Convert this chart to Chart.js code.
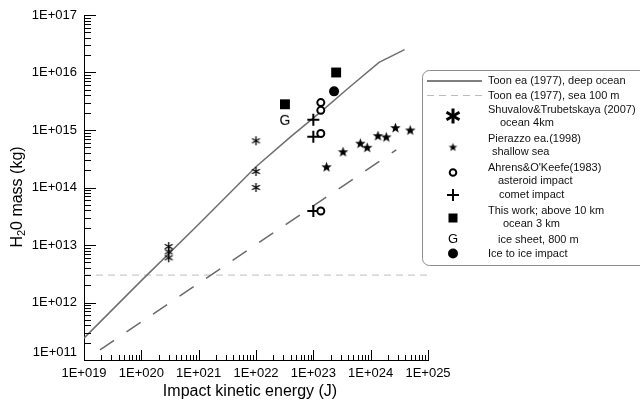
<!DOCTYPE html>
<html>
<head>
<meta charset="utf-8">
<script src="https://cdn.jsdelivr.net/npm/chart.js@4.4.1/dist/chart.umd.min.js"></script>
<style>
  html, body { margin: 0; padding: 0; background: #fff; }
</style>
</head>
<body>
<canvas id="chart" width="640" height="400"></canvas>
<script>
const FONT = "'Liberation Sans', Arial, Helvetica, sans-serif";

// axis decades
const xTicks = [1e19, 1e20, 1e21, 1e22, 1e23, 1e24, 1e25];
const yTicks = [1e11, 1e12, 1e13, 1e14, 1e15, 1e16, 1e17];

// Toon et al. curves
const toonDeepE = [1e19, 1e20, 1e21, 1e22, 4e22, 1.3e23, 4.3e23, 1.4e24, 3.9e24];
const toonDeepM = [2.4e11, 2.4e12, 2.3e13, 2.3e14, 7.6e14, 2e15, 5.6e15, 1.5e16, 2.5e16];
const toonSeaE = [1e19, 1e25];
const toonSeaM = [3e12, 3e12];
const trendE = [1.9e19, 2.8e24];
const trendM = [1.5e11, 4.5e14];

// published estimates
const shuvalovE = [3e20, 3e20, 3e20, 1e22, 1e22, 1e22];
const shuvalovM = [9.4e12, 7.6e12, 6e12, 6.5e14, 1.9e14, 1e14];
const pierazzoE = [1.7e23, 3.3e23, 6.6e23, 8.7e23, 1.34e24, 1.87e24, 2.7e24, 4.9e24];
const pierazzoM = [2.3e14, 4.2e14, 5.9e14, 5e14, 8e14, 7.6e14, 1.1e15, 1e15];
const asteroidE = [1.35e23, 1.35e23, 1.35e23, 1.35e23];
const asteroidM = [3e15, 2.2e15, 8.7e14, 3.9e13];
const cometE = [1e23, 1e23, 1e23];
const cometM = [1.5e15, 7.6e14, 3.9e13];

// this work
const oceanE = [3.2e22, 2.5e23];
const oceanM = [2.8e15, 1e16];
const iceSheetE = [3.2e22];
const iceSheetM = [1.5e15];
const iceIceE = [2.3e23];
const iceIceM = [4.7e15];

const pts = (xs, ys) => xs.map((x, i) => ({x, y: ys[i]}));

// --- marker images ---
function asteriskImg(r, lw) {
  const c = document.createElement('canvas');
  const s = Math.ceil(r * 2 + lw + 2);
  c.width = c.height = s;
  const g = c.getContext('2d');
  g.strokeStyle = '#000';
  g.lineWidth = lw;
  g.translate(s / 2, s / 2);
  for (const a of [90, 30, 150]) {
    const t = a * Math.PI / 180;
    g.beginPath();
    g.moveTo(-r * Math.cos(t), -r * Math.sin(t));
    g.lineTo(r * Math.cos(t), r * Math.sin(t));
    g.stroke();
  }
  return c;
}

function starImg(R) {
  const c = document.createElement('canvas');
  const s = Math.ceil(R * 2 + 2);
  c.width = c.height = s;
  const g = c.getContext('2d');
  g.translate(s / 2, s / 2 + R * 0.1);
  g.fillStyle = '#000';
  g.beginPath();
  for (let i = 0; i < 10; i++) {
    const rr = i % 2 ? R * 0.42 : R;
    const t = -Math.PI / 2 + i * Math.PI / 5;
    g.lineTo(rr * Math.cos(t), rr * Math.sin(t));
  }
  g.closePath();
  g.fill();
  return c;
}

function glyphImg(ch, size) {
  const c = document.createElement('canvas');
  c.width = size + 4;
  c.height = size + 4;
  const g = c.getContext('2d');
  g.fillStyle = '#000';
  g.font = size + 'px ' + FONT;
  g.textAlign = 'center';
  g.textBaseline = 'middle';
  g.fillText(ch, c.width / 2, c.height / 2 + 1);
  return c;
}

const astSmall = asteriskImg(4.5, 1.3);
const astBig = asteriskImg(7.5, 3);
const starSmall = starImg(5.5);
const starLegend = starImg(4.5);
const gSmall = glyphImg('G', 14);

function fmtExp(v) {
  const e = Math.round(Math.log10(v));
  return '1E+0' + e;
}

// inward tick marks on both axes, plus axis titles
const tickMarks = {
  id: 'tickMarks',
  afterDraw(chart) {
    const {ctx, chartArea: a, scales: {x, y}} = chart;
    ctx.save();
    ctx.strokeStyle = '#000';
    ctx.lineWidth = 1;
    ctx.beginPath();
    for (let e = 19; e <= 25; e++) {
      for (let m = 1; m <= 9; m++) {
        const v = m * Math.pow(10, e);
        if (v > x.max * 1.001) break;
        const px = Math.round(x.getPixelForValue(v)) + 0.5;
        const len = m === 1 ? 10 : 5;
        ctx.moveTo(px, a.bottom);
        ctx.lineTo(px, a.bottom - len);
      }
    }
    for (let e = 11; e <= 17; e++) {
      for (let m = 1; m <= 9; m++) {
        const v = m * Math.pow(10, e);
        if (v > y.max * 1.001) break;
        const py = Math.round(y.getPixelForValue(v)) + 0.5;
        const len = m === 1 ? 12 : 7;
        ctx.moveTo(a.left, py);
        ctx.lineTo(a.left + len, py);
      }
    }
    ctx.stroke();

    ctx.fillStyle = '#000';
    ctx.font = '16px ' + FONT;
    ctx.textAlign = 'center';
    ctx.textBaseline = 'middle';
    ctx.fillText('Impact kinetic energy (J)', 250, 392);

    ctx.translate(18, 197);
    ctx.rotate(-Math.PI / 2);
    const parts = [['H', 16, 0], ['2', 11, 4], ['0 mass (kg)', 16, 0]];
    let w = 0;
    for (const [t, s] of parts) { ctx.font = s + 'px ' + FONT; w += ctx.measureText(t).width; }
    let cx = -w / 2;
    ctx.textAlign = 'left';
    for (const [t, s, dy] of parts) {
      ctx.font = s + 'px ' + FONT;
      ctx.fillText(t, cx, dy);
      cx += ctx.measureText(t).width;
    }
    ctx.restore();
  }
};

// boxed legend with two-line entries
const boxLegend = {
  id: 'boxLegend',
  afterDraw(chart) {
    const ctx = chart.ctx;
    ctx.save();
    ctx.fillStyle = '#fff';
    ctx.strokeStyle = '#8c8c8c';
    ctx.lineWidth = 1;
    ctx.beginPath();
    ctx.roundRect(422.5, 70.5, 240, 195, 7);
    ctx.fill();
    ctx.stroke();

    const sx = 453;
    ctx.strokeStyle = '#555';
    ctx.lineWidth = 1.5;
    ctx.beginPath();
    ctx.moveTo(427, 81);
    ctx.lineTo(482, 81);
    ctx.stroke();
    ctx.strokeStyle = '#bbb';
    ctx.lineWidth = 1;
    ctx.setLineDash([7, 5]);
    ctx.beginPath();
    ctx.moveTo(427, 95.5);
    ctx.lineTo(482, 95.5);
    ctx.stroke();
    ctx.setLineDash([]);

    ctx.drawImage(astBig, sx - astBig.width / 2, 116 - astBig.height / 2);
    ctx.drawImage(starLegend, sx - starLegend.width / 2, 147 - starLegend.height / 2);
    ctx.strokeStyle = '#000';
    ctx.lineWidth = 2;
    ctx.beginPath();
    ctx.arc(sx, 172.5, 3.3, 0, Math.PI * 2);
    ctx.stroke();
    ctx.beginPath();
    ctx.moveTo(sx - 6, 195);
    ctx.lineTo(sx + 6, 195);
    ctx.moveTo(sx, 189);
    ctx.lineTo(sx, 201);
    ctx.stroke();
    ctx.fillStyle = '#000';
    ctx.fillRect(sx - 4.5, 213.5, 9, 9);
    ctx.beginPath();
    ctx.arc(sx, 253.5, 5, 0, Math.PI * 2);
    ctx.fill();
    ctx.font = '13px ' + FONT;
    ctx.textAlign = 'center';
    ctx.textBaseline = 'middle';
    ctx.fillText('G', sx, 239.5);

    ctx.textAlign = 'left';
    ctx.font = '11px ' + FONT;
    ctx.fillStyle = '#111';
    const rows = [
      ['Toon ea (1977), deep ocean', 488, 81],
      ['Toon ea (1977), sea 100 m', 488, 95.5],
      ['Shuvalov&Trubetskaya (2007)', 488, 110],
      ['ocean 4km', 500, 123],
      ['Pierazzo ea.(1998)', 488, 139],
      ['shallow sea', 492, 152],
      ["Ahrens&O'Keefe(1983)", 488, 168],
      ['asteroid impact', 498, 180.5],
      ['comet impact', 499, 195],
      ['This work; above 10 km', 488, 211],
      ['ocean 3 km', 503, 223.5],
      ['ice sheet, 800 m', 498, 239.5],
      ['Ice to ice impact', 488, 253.5]
    ];
    for (const [t, x, y] of rows) ctx.fillText(t, x, y);
    ctx.restore();
  }
};

const marker = (data, extra) => Object.assign({
  data, showLine: false, order: 1,
  pointBorderColor: '#000', pointBackgroundColor: '#000'
}, extra);

new Chart(document.getElementById('chart'), {
  type: 'scatter',
  data: {
    datasets: [
      marker(pts(shuvalovE, shuvalovM), {label: 'Shuvalov&Trubetskaya (2007)', pointStyle: astSmall}),
      marker(pts(pierazzoE, pierazzoM), {label: 'Pierazzo ea.(1998)', pointStyle: starSmall}),
      marker(pts(asteroidE, asteroidM), {label: 'asteroid impact', pointStyle: 'circle', pointRadius: 3.5,
        pointBorderWidth: 2, pointBackgroundColor: '#fff'}),
      marker(pts(cometE, cometM), {label: 'comet impact', pointStyle: 'cross', pointRadius: 6, pointBorderWidth: 2}),
      marker(pts(oceanE, oceanM), {label: 'ocean 3 km', pointStyle: 'rect', pointRadius: 7, pointBorderWidth: 0}),
      marker(pts(iceSheetE, iceSheetM), {label: 'ice sheet, 800 m', pointStyle: gSmall}),
      marker(pts(iceIceE, iceIceM), {label: 'Ice to ice impact', pointStyle: 'circle', pointRadius: 5, pointBorderWidth: 0}),
      {label: 'Toon ea (1977), deep ocean', data: pts(toonDeepE, toonDeepM), showLine: true, order: 2,
        borderColor: '#6e6e6e', borderWidth: 1.5, pointRadius: 0, tension: 0},
      {label: 'shallow trend', data: pts(trendE, trendM), showLine: true, order: 2,
        borderColor: '#6a6a6a', borderWidth: 1.5, borderDash: [17, 15], pointRadius: 0},
      {label: 'Toon ea (1977), sea 100 m', data: pts(toonSeaE, toonSeaM), showLine: true, order: 3,
        borderColor: '#bdbdbd', borderWidth: 1, borderDash: [7, 5], pointRadius: 0}
    ]
  },
  options: {
    responsive: false,
    animation: false,
    devicePixelRatio: 1,
    layout: {padding: {top: 15, right: 212, left: 0, bottom: 0}},
    plugins: {legend: {display: false}, tooltip: {enabled: false}},
    scales: {
      x: {
        type: 'logarithmic',
        min: 1e19, max: 1e25,
        grid: {display: false, drawTicks: false},
        border: {display: true, color: '#000', width: 1},
        ticks: {
          color: '#000', font: {family: FONT, size: 13}, padding: 6,
          maxRotation: 0, autoSkip: false,
          callback: v => fmtExp(v)
        },
        afterBuildTicks: s => { s.ticks = xTicks.map(v => ({value: v})); },
        afterFit: s => { s.height = 40; }
      },
      y: {
        type: 'logarithmic',
        min: 1e11, max: 1e17,
        grid: {display: false, drawTicks: false},
        border: {display: true, color: '#000', width: 1},
        ticks: {
          color: '#000', font: {family: FONT, size: 13}, padding: 7,
          autoSkip: false,
          // lowest label sits a little higher, clear of the x labels
          callback: v => v === 1e11 ? [fmtExp(v), ''] : fmtExp(v)
        },
        afterBuildTicks: s => { s.ticks = yTicks.map(v => ({value: v})); },
        afterFit: s => { s.width = 84; }
      }
    }
  },
  plugins: [tickMarks, boxLegend]
});
</script>
</body>
</html>
